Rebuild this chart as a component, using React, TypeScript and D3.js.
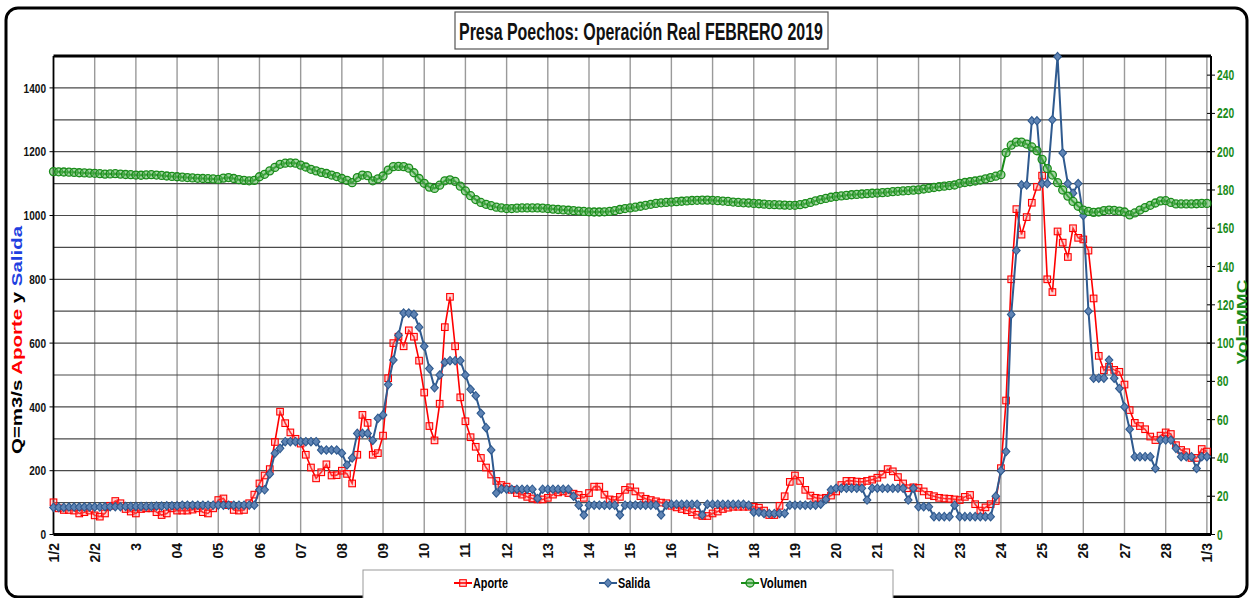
import * as d3 from "d3";

// ---- data (3-hour steps, 1 Feb -> 1 Mar 2019) ----
const samplesPerDay = 8;

const dayLabels = [
  "1/2", "2/2", "3", "04", "05", "06", "07", "08", "09", "10", "11", "12", "13", "14",
  "15", "16", "17", "18", "19", "20", "21", "22", "23", "24", "25", "26", "27", "28", "1/3",
];
const leftTicks = [0, 200, 400, 600, 800, 1000, 1200, 1400];
const leftGrid = [100, 200, 300, 400, 500, 600, 700, 800, 900, 1000, 1100, 1200, 1300, 1400];
const rightTicks = [0, 20, 40, 60, 80, 100, 120, 140, 160, 180, 200, 220, 240];

// Aporte (m3/s)
const aporte = [
  101, 82, 77, 77, 75, 66, 70, 75,
  60, 56, 66, 90, 105, 98, 80, 72,
  66, 80, 82, 82, 70, 61, 66, 82,
  75, 75, 75, 78, 82, 70, 66, 82,
  108, 113, 92, 77, 75, 77, 98, 125,
  160, 185, 205, 290, 385, 349, 320, 300,
  285, 250, 210, 176, 195, 220, 185, 186,
  200, 190, 160, 250, 375, 350, 250, 255,
  310, 490, 600, 620, 590, 640, 620, 545,
  445, 340, 295, 410, 650, 745, 590, 430,
  355, 305, 275, 240, 210, 188, 168, 155,
  150, 140, 130, 125, 118, 113, 110, 110,
  115, 125, 132, 135, 130, 128, 124, 115,
  130, 150, 150, 125, 110, 108, 118, 140,
  148, 135, 120, 112, 108, 104, 100, 98,
  90, 85, 80, 76, 70, 62, 58, 58,
  66, 72, 80, 84, 87, 87, 87, 87,
  87, 84, 75, 61, 61, 90, 120, 165,
  185, 168, 140, 122, 115, 113, 115, 122,
  135, 155, 168, 168, 166, 165, 168, 172,
  178, 188, 205, 198, 180, 160, 145, 148,
  146, 135, 124, 120, 115, 113, 112, 110,
  108, 118, 124, 95, 75, 85, 95, 105,
  208, 420, 800, 1020, 940, 995, 1040, 1090,
  1125, 800, 760, 950, 915, 870, 960, 930,
  925, 890, 740, 560, 515, 526, 516, 510,
  470, 390, 350, 340, 330, 307, 296, 310,
  320, 315, 280, 265, 258, 240, 240, 268,
  260,
];

// Salida (m3/s)
const salida = [
  85, 85, 85, 86, 86, 86, 86, 86,
  86, 86, 87, 87, 87, 87, 88, 88,
  88, 88, 88, 88, 89, 89, 90, 90,
  90, 92, 92, 92, 92, 92, 92, 92,
  92, 92, 92, 92, 92, 92, 92, 92,
  140, 140, 190, 255, 270, 291, 291, 291,
  291, 291, 291, 291, 265, 265, 265, 265,
  255, 218, 240, 317, 317, 317, 295, 364,
  375, 470, 547, 625, 694, 694, 690, 650,
  590, 520, 460, 500, 540, 545, 545, 545,
  500, 455, 435, 380, 335, 265, 130, 143,
  142, 142, 142, 142, 142, 142, 113, 142,
  142, 142, 142, 142, 142, 120, 92, 61,
  92, 92, 92, 92, 92, 92, 61, 92,
  92, 92, 92, 92, 92, 92, 61, 92,
  95, 95, 95, 95, 95, 95, 61, 95,
  95, 95, 95, 95, 95, 95, 95, 92,
  70, 70, 66, 66, 66, 66, 66, 92,
  92, 92, 92, 92, 92, 95, 110, 140,
  145, 145, 145, 145, 145, 145, 108, 145,
  145, 145, 145, 145, 145, 145, 108, 145,
  87, 87, 87, 56, 56, 56, 56, 92,
  56, 56, 56, 56, 56, 56, 56, 120,
  200, 260, 690, 890, 1096, 1096, 1297, 1297,
  1100, 1100, 1300, 1498, 1196, 1100, 1070, 1100,
  1000, 700, 490, 490, 490, 547, 490, 458,
  400, 330, 244, 244, 244, 244, 207, 296,
  296, 296, 270, 244, 244, 244, 207, 244,
  244,
];

// Volumen (MMC)
const volumen = [
  189.6, 189.5, 189.4, 189.3, 189.2, 189.0, 188.9, 188.8,
  188.7, 188.5, 188.3, 188.4, 188.5, 188.3, 188.1, 188.0,
  187.8, 187.7, 187.9, 188.0, 187.8, 187.6, 187.3, 187.1,
  186.9, 186.7, 186.5, 186.3, 186.1, 186.0, 185.9, 185.8,
  185.5, 186.2, 186.5, 186.0, 185.4, 185.0, 184.8, 185.0,
  186.9, 188.2, 190.0, 191.8, 193.4, 194.0, 194.2, 194.0,
  193.0, 192.0, 190.8, 190.0, 189.2, 188.6, 187.8, 187.0,
  186.0, 185.0, 183.8, 186.5, 187.8, 187.5, 184.8, 185.8,
  187.3, 190.4, 192.2, 192.3, 192.2, 191.4, 189.0, 186.0,
  183.5, 181.5, 180.8, 182.5, 184.8, 185.3, 184.5, 182.0,
  179.5, 177.0, 175.0, 173.5, 172.5, 171.8, 171.0, 170.6,
  170.3, 170.3, 170.5, 170.6, 170.6, 170.6, 170.6, 170.5,
  170.3, 170.0, 169.8, 169.6, 169.4, 169.2, 169.0, 168.8,
  168.6, 168.5, 168.5, 168.6, 168.8, 169.2, 169.8, 170.3,
  170.6, 171.0, 171.5, 172.0, 172.5, 173.0, 173.3, 173.5,
  173.7, 173.9, 174.1, 174.3, 174.5, 174.6, 174.7, 174.7,
  174.6, 174.4, 174.2, 174.0, 173.7, 173.5, 173.3, 173.2,
  173.0, 172.8, 172.6, 172.4, 172.3, 172.2, 172.1, 172.0,
  172.0, 172.3, 172.8, 173.5, 174.3, 175.0, 175.6, 176.2,
  176.6, 176.9, 177.2, 177.5, 177.7, 177.9, 178.1, 178.3,
  178.4, 178.6, 178.8, 179.1, 179.3, 179.5, 179.7, 179.9,
  180.1, 180.5, 180.9, 181.3, 181.7, 182.0, 182.3, 182.6,
  183.5, 183.9, 184.3, 184.7, 185.2, 185.8, 186.5, 187.2,
  188.0, 199.5, 203.4, 205.0, 205.0, 204.0, 202.5, 200.5,
  196.0, 191.2, 187.8, 183.8, 180.0, 176.8, 174.0, 171.5,
  169.5, 168.8, 168.3, 168.5, 169.2, 169.5, 169.3, 169.0,
  168.5, 167.0, 168.0, 169.5, 170.8, 172.0, 173.2, 174.3,
  174.4, 173.5, 172.7, 172.7, 172.7, 172.7, 172.8, 173.0,
  173.0,
];

const RED = "#ff0000";
const BLUE = "#2f5a8f";
const GREEN = "#1a8c1a";
const FONT = "'Liberation Sans', Arial, sans-serif";

const W = 1249;
const H = 598;

function Square({ cx, cy }: { cx: number; cy: number }) {
  return (
    <rect x={cx - 3.3} y={cy - 3.3} width={6.6} height={6.6}
      fill="rgba(255,140,140,0.35)" stroke={RED} strokeWidth={1.1} />
  );
}

function Diamond({ cx, cy }: { cx: number; cy: number }) {
  return (
    <path d={`M${cx},${cy - 4.2}L${cx + 3.8},${cy}L${cx},${cy + 4.2}L${cx - 3.8},${cy}Z`}
      fill="#5f84b4" stroke={BLUE} strokeWidth={1.1} />
  );
}

function Circle({ cx, cy }: { cx: number; cy: number }) {
  return <circle cx={cx} cy={cy} r={4} fill="rgba(90,180,90,0.55)" stroke={GREEN} strokeWidth={1.3} />;
}

export default function App() {
  const x = d3.scaleLinear().domain([0, 28.1]).range([53.5, 1211]);
  const yL = d3.scaleLinear().domain([0, 1500]).range([534.5, 56]);
  const yR = d3.scaleLinear().domain([0, 250]).range([534.5, 56]);
  const tOf = (i: number) => i / samplesPerDay;

  const lineL = d3.line<number>().x((_, i) => x(tOf(i))).y((d) => yL(d));
  const lineR = d3.line<number>().x((_, i) => x(tOf(i))).y((d) => yR(d));

  const [x0, x1] = x.range();
  const [yb, yt] = yL.range();

  return (
    <svg width={W} height={H} style={{ position: "absolute", left: 0, top: 0, background: "#fff" }}
      fontFamily={FONT}>
      <rect x={0} y={0} width={W} height={H} fill="#fff" />
      {/* outer frame */}
      <rect x={6} y={8} width={1241} height={589} rx={12} fill="none" stroke="#000" strokeWidth={3} />

      {/* grid */}
      {d3.range(1, 29).map((d) => (
        <line key={"v" + d} x1={x(d)} x2={x(d)} y1={yt} y2={yb} stroke="#9a9a9a" strokeWidth={1.4} />
      ))}
      {leftGrid.map((v) => (
        <line key={"h" + v} x1={x0} x2={x1} y1={yL(v)} y2={yL(v)} stroke="#4a4a4a" strokeWidth={1.2} />
      ))}

      {/* plot frame */}
      <line x1={x0} x2={x1} y1={yt} y2={yt} stroke="#000" strokeWidth={3} />
      <line x1={x0} x2={x1} y1={yb} y2={yb} stroke="#000" strokeWidth={3} />
      <line x1={x0} x2={x0} y1={yt} y2={yb} stroke="#000" strokeWidth={1.8} />
      <line x1={x1} x2={x1} y1={yt} y2={yb} stroke="#000" strokeWidth={2} />

      {/* left axis */}
      {leftTicks.map((v) => (
        <g key={"lt" + v}>
          <line x1={x0 - 4} x2={x0} y1={yL(v)} y2={yL(v)} stroke="#000" strokeWidth={1} />
          <text x={46} y={yL(v)} dy="0.36em" textAnchor="end" fontSize={13} fontWeight="bold"
            textLength={String(v).length * 5.6} lengthAdjust="spacingAndGlyphs" fill="#111">
            {v}
          </text>
        </g>
      ))}

      {/* right axis */}
      {rightTicks.map((v) => (
        <g key={"rt" + v}>
          <line x1={x1 - 4} x2={x1 + 4} y1={yR(v)} y2={yR(v)} stroke="#000" strokeWidth={1} />
          <text x={1217} y={yR(v)} dy="0.36em" textAnchor="start" fontSize={14} fontWeight="bold"
            textLength={String(v).length * 5.7} lengthAdjust="spacingAndGlyphs" fill={GREEN}>
            {v}
          </text>
        </g>
      ))}

      {/* x labels */}
      {dayLabels.map((lab, d) => (
        <text key={"xl" + d} transform={`translate(${x(d)},543) rotate(-90)`} dy="0.36em"
          textAnchor="end" fontSize={14} fontWeight="bold" fill="#111">
          {lab}
        </text>
      ))}

      {/* axis titles */}
      <text transform="translate(22,340) rotate(-90)" textAnchor="middle" fontSize={15} fontWeight="bold"
        textLength={228} lengthAdjust="spacingAndGlyphs">
        <tspan fill="#000">Q=m3/s </tspan>
        <tspan fill={RED}>Aporte</tspan>
        <tspan fill="#000"> y </tspan>
        <tspan fill="#1f3fe0">Salida</tspan>
      </text>
      <text transform="translate(1246.5,322) rotate(-90)" textAnchor="middle" fontSize={15} fontWeight="bold"
        fill={GREEN} textLength={85} lengthAdjust="spacingAndGlyphs">
        Vol=MMC
      </text>

      {/* series */}
      <path d={lineL(aporte) || ""} fill="none" stroke={RED} strokeWidth={1.6} />
      {aporte.map((v, i) => <Square key={"a" + i} cx={x(tOf(i))} cy={yL(v)} />)}
      <path d={lineL(salida) || ""} fill="none" stroke={BLUE} strokeWidth={2} />
      {salida.map((v, i) => <Diamond key={"s" + i} cx={x(tOf(i))} cy={yL(v)} />)}
      <path d={lineR(volumen) || ""} fill="none" stroke={GREEN} strokeWidth={2} />
      {volumen.map((v, i) => <Circle key={"v" + i} cx={x(tOf(i))} cy={yR(v)} />)}

      {/* title */}
      <rect x={455} y={12} width={373} height={37} fill="#fff" stroke="#555" strokeWidth={1.2} />
      <text x={641} y={40} textAnchor="middle" fontSize={23} fontWeight="bold" fill="#111"
        textLength={364} lengthAdjust="spacingAndGlyphs">
        Presa Poechos: Operación Real FEBRERO 2019
      </text>

      {/* legend */}
      <rect x={363} y={570} width={530} height={40} fill="#fff" stroke="#999" strokeWidth={1} />
      <g>
        <line x1={454} x2={472} y1={583} y2={583} stroke={RED} strokeWidth={2} />
        <Square cx={463} cy={583} />
        <text x={473} y={588} fontSize={14} fontWeight="bold" textLength={35} lengthAdjust="spacingAndGlyphs">Aporte</text>
        <line x1={599} x2={617} y1={583} y2={583} stroke={BLUE} strokeWidth={2} />
        <Diamond cx={608} cy={583} />
        <text x={618} y={588} fontSize={14} fontWeight="bold" textLength={32} lengthAdjust="spacingAndGlyphs">Salida</text>
        <line x1={741} x2={759} y1={583} y2={583} stroke={GREEN} strokeWidth={2} />
        <Circle cx={750} cy={583} />
        <text x={760} y={588} fontSize={14} fontWeight="bold" textLength={47} lengthAdjust="spacingAndGlyphs">Volumen</text>
      </g>
    </svg>
  );
}
